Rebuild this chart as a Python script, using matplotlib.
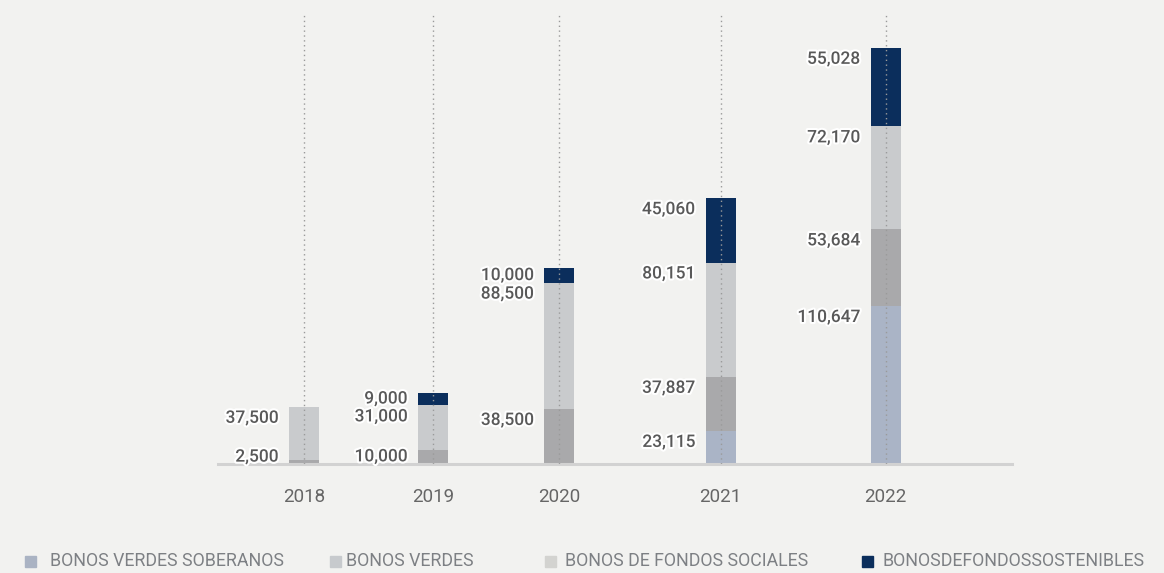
import matplotlib.pyplot as plt
import matplotlib.patheffects as pe
from matplotlib.patches import Rectangle
import numpy as np

# Data (values in units)
years = ['2018', '2019', '2020', '2021', '2022']
soberanos = [0, 0, 0, 23115, 110647]
verdes = [2500, 10000, 38500, 37887, 53684]
sociales = [37500, 31000, 88500, 80151, 72170]
sostenibles = [0, 9000, 10000, 45060, 55028]

legend_labels = ['BONOS VERDES SOBERANOS', 'BONOS VERDES',
                 'BONOS DE FONDOS SOCIALES', 'BONOSDEFONDOSSOSTENIBLES']

# layout (bars are not evenly spaced in the original)
x_pos = np.array([0, 1.0, 1.98, 3.23, 4.51])
bar_w = 0.233
bar_colors = ['#aab4c6', '#a9a9ab', '#c9cbcd', '#0b2e5c']
legend_colors = ['#aab3c3', '#c7cacd', '#d3d3d0', '#0b2e5c']
bg = '#f2f2f0'

plt.rcParams['font.family'] = ['Roboto', 'DejaVu Sans']

fig = plt.figure(figsize=(11.64, 5.73), dpi=100, facecolor=bg)
ax = fig.add_axes([218 / 1164, (573 - 464) / 573, (1012 - 218) / 1164, (464 - 15) / 573])
ax.set_facecolor(bg)

series = [soberanos, verdes, sociales, sostenibles]
bottom = np.zeros(len(years))
halo = [pe.withStroke(linewidth=3, foreground='white')]
for vals, col in zip(series, bar_colors):
    vals = np.array(vals, dtype=float)
    ax.bar(x_pos, vals, bar_w, bottom=bottom, color=col, zorder=2)
    for xi, b, v in zip(x_pos, bottom, vals):
        if v <= 0:
            continue
        top = b + v
        y = max(top - min(v / 2, 8000), 4800)
        ax.text(xi - bar_w / 2 - 0.08, y, f'{int(v):,}', ha='right', va='center',
                fontsize=12.5, fontweight='medium', color='#595959',
                path_effects=halo, zorder=4)
    bottom += vals

ax.set_xlim(-0.667, 5.49)
ax.set_ylim(0, 314600)

# dotted guide lines
for xi in x_pos:
    ax.axvline(xi, color='#9a9a9a', linestyle=(0, (1, 2.5)), linewidth=1, zorder=3)

for s in ['top', 'right', 'left']:
    ax.spines[s].set_visible(False)
ax.spines['bottom'].set_color('#d2d2d2')
ax.spines['bottom'].set_linewidth(2.2)
ax.set_yticks([])
ax.set_xticks(x_pos, years)
ax.tick_params(axis='x', length=0, pad=17, labelsize=13.5, labelcolor='#666666')

# legend row
leg_marker_x = [25, 330, 545, 862]
leg_text_x = [50, 346, 565, 882]
for mx, tx, col, lab in zip(leg_marker_x, leg_text_x, legend_colors, legend_labels):
    fig.patches.append(Rectangle((mx / 1164, (573 - 567) / 573), 11 / 1164, 11 / 573,
                                 transform=fig.transFigure, color=col))
    fig.text(tx / 1164, (573 - 561) / 573, lab, fontsize=12.8, color='#7d8084',
             ha='left', va='center')

fig.savefig('out.png', dpi=100, facecolor=bg)
